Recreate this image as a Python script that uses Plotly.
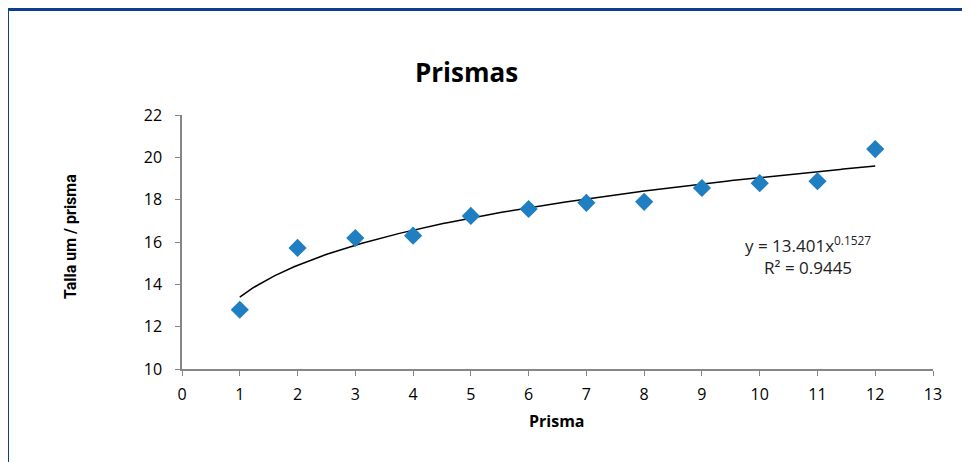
import numpy as np
import plotly.graph_objects as go

prisma = [1, 2, 3, 4, 5, 6, 7, 8, 9, 10, 11, 12]
talla = [12.8, 15.72, 16.19, 16.3, 17.23, 17.56, 17.85, 17.9, 18.55, 18.78, 18.87, 20.39]
coef_a = 13.401
coef_b = 0.1527
r2 = 0.9445
x_ticks = list(range(0, 14))
y_ticks = [10, 12, 14, 16, 18, 20, 22]

xt = np.linspace(1, 12, 200)
yt = coef_a * xt ** coef_b

OFF = 8  # page body margin
W, H = 970, 462
# target screen positions of plot area
SL, ST, SR, SB = 182, 115, 933, 369
L, T = SL - OFF, ST - OFF
pw, ph = SR - SL, SB - ST
R = W - L - pw
B = H - T - ph

def px(x):
    return (x - SL) / pw

def py(y):
    return (SB - y) / ph

fig = go.Figure()
fig.add_trace(go.Scatter(x=xt, y=yt, mode="lines",
                         line=dict(color="black", width=1.5), showlegend=False,
                         hoverinfo="skip"))
fig.add_trace(go.Scatter(x=prisma, y=talla, mode="markers",
                         marker=dict(symbol="diamond", size=14, color="#1f7fc0"),
                         showlegend=False))

border = "#0d3f8f"
fig.add_shape(type="line", xref="paper", yref="paper",
              x0=px(6), x1=px(990), y0=py(9.5), y1=py(9.5),
              line=dict(color=border, width=3))
fig.add_shape(type="line", xref="paper", yref="paper",
              x0=px(7.5), x1=px(7.5), y0=py(8), y1=py(480),
              line=dict(color=border, width=3))

fig.add_annotation(xref="paper", yref="paper", x=px(808), y=py(255),
                   text=f"y = {coef_a}x<sup>{coef_b}</sup><br>R² = {r2}",
                   showarrow=False, align="center",
                   xanchor="center", yanchor="middle",
                   font=dict(family="Open Sans", size=17, color="#222"))

fig.add_annotation(xref="paper", yref="paper", x=px(70), y=py(237),
                   text="<b>Talla um / prisma</b>", textangle=-90,
                   showarrow=False, xanchor="center", yanchor="middle",
                   font=dict(family="Roboto", size=16, color="black"))

fig.add_annotation(xref="paper", yref="paper", x=px(557), y=py(421),
                   text="<b>Prisma</b>",
                   showarrow=False, xanchor="center", yanchor="middle",
                   font=dict(family="Open Sans", size=16, color="black"))

fig.update_layout(
    width=W, height=H,
    margin=dict(l=L, r=R, t=T, b=B),
    paper_bgcolor="white", plot_bgcolor="white",
    title=dict(text="<b>Prismas</b>", x=px(537), xanchor="center",
               y=1 - (73 - OFF) / H, yanchor="middle",
               font=dict(family="Open Sans", size=26, color="black")),
    xaxis=dict(range=[0, 13], tickvals=x_ticks, showgrid=False, zeroline=False,
               showline=True, linecolor="#868686", linewidth=1.5,
               ticks="outside", ticklen=5, tickcolor="#868686",
               ticklabelstandoff=5,
               tickfont=dict(family="Open Sans", size=16, color="black")),
    yaxis=dict(range=[10, 22], tickvals=y_ticks, showgrid=False, zeroline=False,
               showline=True, linecolor="#868686", linewidth=1.5,
               ticks="outside", ticklen=5, tickcolor="#868686",
               ticklabelstandoff=10,
               tickfont=dict(family="Open Sans", size=16, color="black")),
)

fig.write_html("out.html")
